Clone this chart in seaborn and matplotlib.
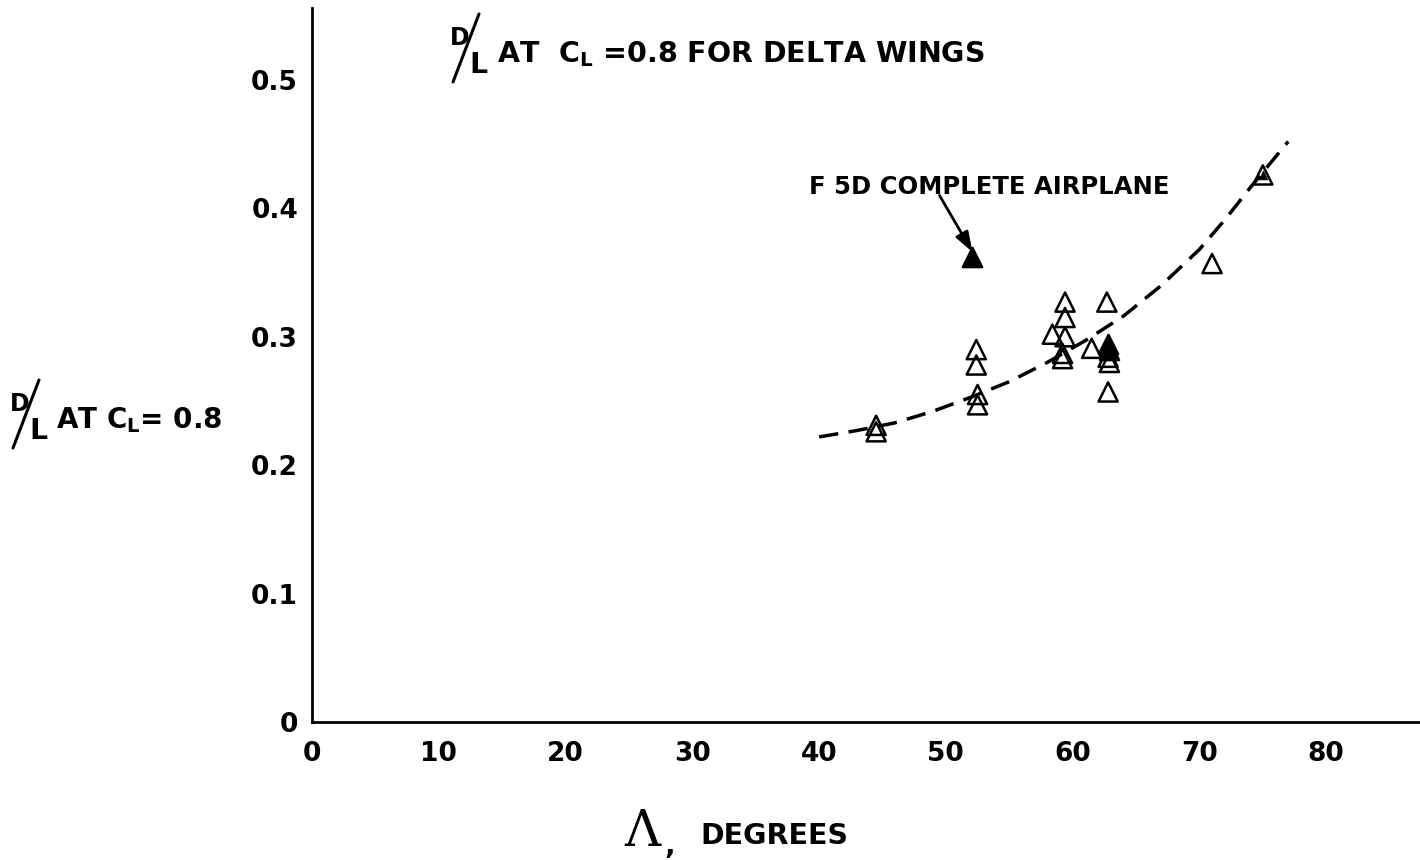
import matplotlib
matplotlib.use("Agg")
import matplotlib.pyplot as plt
from matplotlib.lines import Line2D
import seaborn as sns
import pandas as pd

# Sweep angle (deg) and D/L at CL = 0.8 for the delta-wing models (open symbols)
sweep_open = [44.5, 44.5, 52.4, 52.4, 52.5, 52.5, 58.4, 59.4, 59.4, 59.4,
              59.2, 59.2, 61.5, 62.7, 62.8, 62.9, 62.8, 71.0, 75.0]
dl_open = [0.231, 0.226, 0.290, 0.278, 0.255, 0.247, 0.302, 0.327, 0.315, 0.300,
           0.287, 0.283, 0.291, 0.327, 0.284, 0.280, 0.257, 0.357, 0.426]

# Solid symbols within the 63-degree group
sweep_solid = [62.8, 62.9]
dl_solid = [0.294, 0.290]

# Small solid symbol inside the 75-degree point
sweep_dot = [75.0]
dl_dot = [0.426]

# F5D complete airplane
sweep_f5d = [52.1]
dl_f5d = [0.362]

# Faired curve through the wing data
curve_sweep = [40, 43, 46, 49, 52, 55, 58, 61, 64, 67, 70, 72, 74, 76, 77]
curve_dl = [0.222, 0.227, 0.233, 0.242, 0.253, 0.265, 0.280, 0.297, 0.316,
            0.340, 0.368, 0.391, 0.416, 0.440, 0.452]

x_ticks = [0, 10, 20, 30, 40, 50, 60, 70, 80]
x_labels = ["0", "10", "20", "30", "40", "50", "60", "70", "80"]
y_ticks = [0, 0.1, 0.2, 0.3, 0.4, 0.5]
y_labels = ["0", "0.1", "0.2", "0.3", "0.4", "0.5"]

sns.set_theme(style="white")
plt.rcParams["font.family"] = ["DejaVu Sans"]
plt.rcParams["text.color"] = "black"
plt.rcParams["mathtext.fontset"] = "custom"
plt.rcParams["mathtext.rm"] = "DejaVu Sans"
plt.rcParams["mathtext.bf"] = "DejaVu Sans:bold"

W, H = 1420, 860
fig = plt.figure(figsize=(W / 100, H / 100), dpi=100)
ax = fig.add_axes([312 / W, (H - 722) / H, (W - 312) / W, (722 - 8) / H])

open_df = pd.DataFrame({"sweep": sweep_open, "dl": dl_open})
curve_df = pd.DataFrame({"sweep": curve_sweep, "dl": curve_dl})

sns.lineplot(data=curve_df, x="sweep", y="dl", ax=ax, color="black",
             linewidth=2.5, linestyle=(0, (5.6, 3.0)), sort=True, zorder=2)
sns.scatterplot(data=open_df, x="sweep", y="dl", ax=ax, marker="^", s=190,
                facecolors="none", edgecolor="black", linewidth=1.8, zorder=3)
sns.scatterplot(x=sweep_solid, y=dl_solid, ax=ax, marker="^", s=190,
                color="black", edgecolor="black", linewidth=1.8, zorder=4)
sns.scatterplot(x=sweep_dot, y=dl_dot, ax=ax, marker="^", s=40,
                color="black", edgecolor="black", linewidth=0.5, zorder=4)
sns.scatterplot(x=sweep_f5d, y=dl_f5d, ax=ax, marker="^", s=190,
                color="black", edgecolor="black", linewidth=1.8, zorder=4)

ax.annotate("", xy=(sweep_f5d[0], dl_f5d[0] + 0.004), xytext=(49.5, 0.410),
            arrowprops=dict(arrowstyle="-|>,head_length=1.0,head_width=0.35",
                            color="black", lw=2.0, shrinkA=0, shrinkB=0))
ax.text(39.2, 0.417, "F 5D COMPLETE AIRPLANE", fontsize=17.5, fontweight="bold",
        ha="left", va="center", color="black")

ax.set_xlim(0, 87.4)
ax.set_ylim(0, 0.556)
ax.set_xticks(x_ticks)
ax.set_xticklabels(x_labels)
ax.set_yticks(y_ticks)
ax.set_yticklabels(y_labels)
ax.tick_params(axis="both", length=0, labelsize=19, colors="black")
ax.tick_params(axis="x", pad=14)
ax.tick_params(axis="y", pad=10)
for lab in ax.get_xticklabels() + ax.get_yticklabels():
    lab.set_fontweight("bold")
ax.set_xlabel("")
ax.set_ylabel("")
for side in ("top", "right"):
    ax.spines[side].set_visible(False)
for side in ("left", "bottom"):
    ax.spines[side].set_color("black")
    ax.spines[side].set_linewidth(2.0)
ax.grid(False)


def px(x, y):
    return x / W, 1 - y / H


def fraction_dl(x0, y0, size):
    # "D over L" written with a slanted stroke
    fig.text(*px(x0, y0), "D", fontsize=size, fontweight="bold", ha="center",
             va="center", color="black")
    fig.text(*px(x0 + 18, y0 + 27), "L", fontsize=size * 1.2, fontweight="bold",
             ha="center", va="center", color="black")
    fig.add_artist(Line2D([(x0 - 7) / W, (x0 + 19) / W],
                          [1 - (y0 + 44) / H, 1 - (y0 - 24) / H],
                          transform=fig.transFigure, color="black", lw=2.2))


# Title
fraction_dl(460, 38, 17)
fig.text(*px(497, 54), r"AT  C$_{\mathbf{L}}$ =0.8 FOR DELTA WINGS", fontsize=20.5,
         fontweight="bold", ha="left", va="center", color="black")

# Y-axis label
fraction_dl(20, 404, 17)
fig.text(*px(56, 420), r"AT C$_{\mathbf{L}}$= 0.8", fontsize=20, fontweight="bold",
         ha="left", va="center", color="black")

# X-axis label
fig.text(*px(642, 832), "Λ", fontsize=36, family=["DejaVu Serif"], ha="center",
         va="center", color="black")
fig.text(*px(670, 846), ",", fontsize=20, fontweight="bold", ha="center",
         va="center", color="black")
fig.text(*px(700, 836), "DEGREES", fontsize=20.5, fontweight="bold", ha="left",
         va="center", color="black")

fig.savefig("out.png", dpi=100, facecolor="white")
